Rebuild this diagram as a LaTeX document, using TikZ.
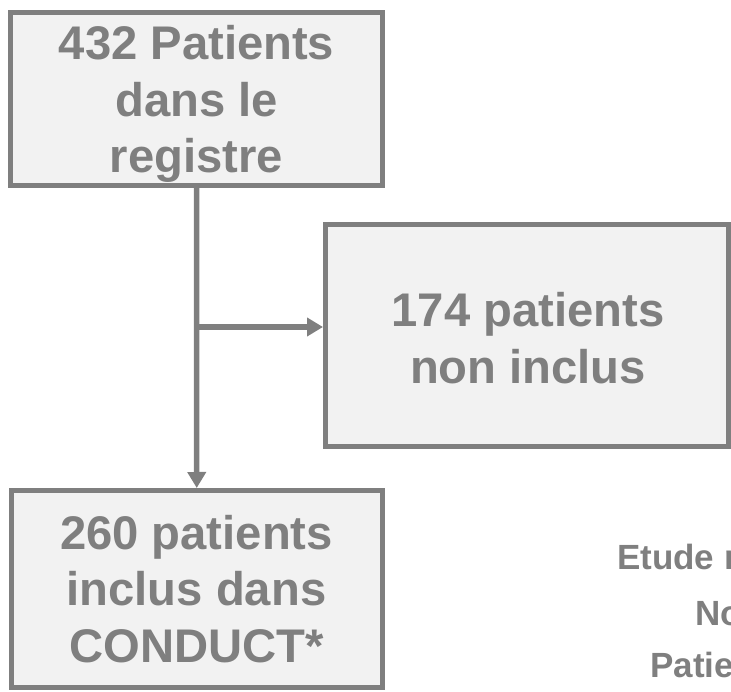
\documentclass[tikz,border=0pt]{standalone}
\usepackage{fontspec}
\setmainfont{Liberation Sans}
\usetikzlibrary{arrows.meta}
\definecolor{gr}{HTML}{7F7F7F}
\definecolor{bx}{HTML}{F2F2F2}
\tikzset{
  boxnode/.style={draw=gr, fill=bx, line width=5pt, inner sep=0pt, rectangle},
  boxtext/.style={text=gr, align=center, inner sep=0pt, font=\fontsize{47.2}{56.5}\selectfont\bfseries},
  sidetext/.style={text=gr, inner sep=0pt, anchor=base west, font=\fontsize{35}{42}\selectfont\bfseries},
  conn/.style={draw=gr, line width=5.5pt, -{Triangle[length=16pt,width=18pt]}}
}
\begin{document}
\begin{tikzpicture}[x=1pt,y=-1pt]
\useasboundingbox (0,0) rectangle (731,692);
\clip (0,0) rectangle (731,692);
\node[boxnode, minimum width=372pt, minimum height=173pt] (top) at (196.5,99) {};
\node[boxnode, minimum width=403pt, minimum height=221.5pt] (right) at (527,335.25) {};
\node[boxnode, minimum width=371.5pt, minimum height=197pt] (bot) at (196.75,589) {};
\node[boxtext] (ttop) at (196.5,104) {432 Patients\\dans le\\registre};
\node[boxtext] (tright) at (528,338) {174 patients\\non inclus};
\node[boxtext] (tbot) at (196.5,589) {260 patients\\inclus dans\\CONDUCT*};
\node[sidetext] (s1) at (617,569) {Etude r};
\node[sidetext] (s2) at (695,625) {No};
\node[sidetext] (s3) at (650,677) {Patie};
\coordinate (j) at (196.6,327);
\draw[conn] (top.south) -- (bot.north);
\draw[conn] (j) -- (j -| right.west);
\end{tikzpicture}
\end{document}
